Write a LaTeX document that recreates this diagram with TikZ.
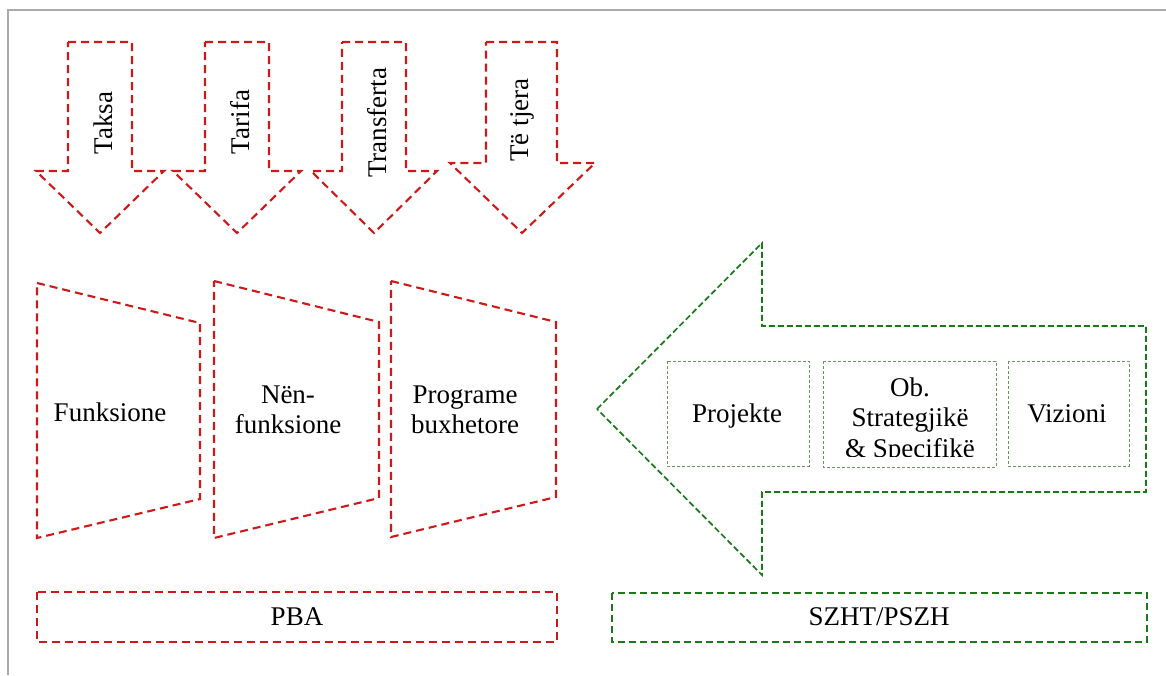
\documentclass[tikz,border=0pt]{standalone}
\usepackage{fontspec}
\setmainfont{Liberation Serif}
\definecolor{rd}{HTML}{D01818}
\definecolor{gn}{HTML}{1A7A1A}
\definecolor{lg}{HTML}{6A985C}
\definecolor{fr}{HTML}{AAAAAA}
\tikzset{
  reddash/.style={draw=rd, line width=2.1pt, dash pattern=on 8pt off 5pt, line join=miter},
  greendash/.style={draw=gn, line width=1.7pt, dash pattern=on 6pt off 3pt},
  greenbox/.style={draw=gn, line width=2.1pt, dash pattern=on 7pt off 4pt},
  innerbox/.style={draw=lg, line width=1pt, dash pattern=on 3pt off 2pt},
  txt/.style={font=\fontsize{27}{30.5}\selectfont, align=center, inner sep=0pt, text=black},
}
\begin{document}
\begin{tikzpicture}[x=1pt, y=-1pt]
\useasboundingbox (0,0) rectangle (1166,675);
% frame
\draw[fr, line width=2pt] (8,675) -- (8,10) -- (1166,10);

% downward arrows
\draw[reddash] (68,42) -- (132,42) -- (132,171) -- (164,171) -- (100,233) -- (36,171) -- (68,171) -- cycle;
\draw[reddash] (205,42) -- (269,42) -- (269,171) -- (301,171) -- (237,233) -- (173,171) -- (205,171) -- cycle;
\draw[reddash] (342,42) -- (406,42) -- (406,171) -- (437,171) -- (374,233) -- (311,171) -- (342,171) -- cycle;
\draw[reddash] (486,42) -- (557,42) -- (557,163) -- (595,163) -- (522,233) -- (450,163) -- (486,163) -- cycle;
\node[txt, rotate=90] (taksa) at (103,123) {Taksa};
\node[txt, rotate=90] (tarifa) at (240,122) {Tarifa};
\node[txt, rotate=90] (transferta) at (377,123) {Transferta};
\node[txt, rotate=90] (tetjera) at (522,120) {Të tjera};

% trapezoids
\draw[reddash] (37,283) -- (200,323) -- (200,499) -- (37,538) -- cycle;
\draw[reddash] (214,281) -- (379,322) -- (379,498) -- (214,538) -- cycle;
\draw[reddash] (391,281) -- (556,322) -- (556,497) -- (391,537) -- cycle;
\node[txt] (funk) at (110,412) {Funksione};
\node[txt] (nenf) at (288,410) {Nën-\\funksione};
\node[txt] (prog) at (465,410) {Programe\\buxhetore};

% big green arrow
\draw[greendash] (597,409) -- (762,243) -- (762,326) -- (1146,326) -- (1146,492) -- (762,492) -- (762,575) -- cycle;
\draw[innerbox] (667,361) rectangle (809,466);
\draw[innerbox] (823,361) rectangle (996,467);
\draw[innerbox] (1008,361) rectangle (1129,466);
\node[txt, anchor=base] (proj) at (737,422) {Projekte};
\node[txt, anchor=base] (viz) at (1067,422) {Vizioni};
\begin{scope}
\clip (824,362) rectangle (995,456);
\node[txt] (obs) at (910,420) {Ob.\\Strategjikë\\\& Specifikë};
\end{scope}

% bottom boxes
\draw[reddash] (37,592) rectangle (557,642);
\node[txt] (pba) at (297,617) {PBA};
\draw[greenbox] (612,593) rectangle (1147,642);
\node[txt] (szht) at (879,617) {SZHT/PSZH};
\end{tikzpicture}
\end{document}
